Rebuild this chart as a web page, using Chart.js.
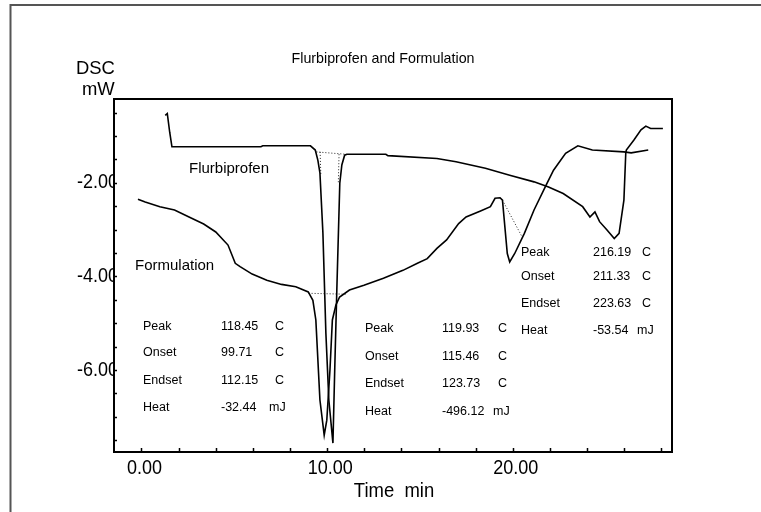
<!DOCTYPE html>
<html lang="en">
<head>
<meta charset="UTF-8" />
<title>Flurbiprofen and Formulation</title>
<script src="https://cdn.jsdelivr.net/npm/chart.js"></script>
<style>
  html, body { margin: 0; padding: 0; background: #fff; }
  #wrap { position: relative; width: 761px; height: 512px; }
</style>
</head>
<body>
<div id="wrap"><canvas id="dsc"></canvas></div>
<script>
// DSC traces: time (min) vs heat flow (mW)
const flurbiTime = [1.28, 1.39, 1.52, 1.64, 1.78, 6.43, 6.53, 9.10, 9.36, 9.50, 9.61, 9.77, 9.93, 10.09, 10.31,
  10.41, 10.52, 10.68, 10.79, 10.94, 11.06, 13.16, 13.27, 15.91, 16.94, 18.52, 19.83, 21.14, 21.92, 22.71,
  23.76, 24.15, 24.42, 24.67, 25.07, 25.46, 25.72, 25.98, 26.08, 26.11, 26.51, 26.90, 27.16, 27.42, 28.08];
const flurbiMw = [-0.56, -0.52, -0.92, -1.23, -1.23, -1.23, -1.21, -1.21, -1.30, -1.52, -1.79, -3.07, -5.21, -6.64, -7.56,
  -5.94, -4.29, -2.01, -1.62, -1.41, -1.39, -1.39, -1.42, -1.48, -1.55, -1.69, -1.84, -1.98, -2.09, -2.23,
  -2.51, -2.73, -2.62, -2.83, -3.01, -3.19, -3.08, -2.37, -1.37, -1.30, -1.09, -0.87, -0.79, -0.84, -0.84];

const formTime = [-0.19, 0.20, 0.99, 1.78, 2.56, 3.35, 4.00, 4.66, 5.05, 5.31, 5.96, 6.75, 7.54, 8.31, 8.98,
  9.23, 9.39, 9.61, 9.84, 9.98, 10.15, 10.28, 10.47, 10.67, 11.20, 11.98, 13.03, 14.08, 14.86, 15.39,
  15.91, 16.43, 17.08, 17.48, 18.26, 18.79, 19.04, 19.31, 19.44, 19.70, 19.83, 20.10, 20.62, 21.14, 21.79,
  22.19, 22.84, 23.50, 24.28, 25.98, 26.37, 27.29];
const formMw = [-2.35, -2.41, -2.51, -2.58, -2.73, -2.88, -3.05, -3.33, -3.72, -3.79, -3.95, -4.08, -4.17, -4.22, -4.33,
  -4.51, -4.93, -6.64, -7.39, -7.07, -6.00, -4.93, -4.61, -4.44, -4.29, -4.19, -4.04, -3.87, -3.72, -3.62,
  -3.40, -3.22, -2.87, -2.73, -2.60, -2.51, -2.33, -2.32, -2.37, -3.51, -3.69, -3.51, -3.08, -2.58, -2.05,
  -1.73, -1.37, -1.21, -1.30, -1.34, -1.36, -1.30];

// peak baselines and tangents (dotted), one [t0, t1] / [mW0, mW1] pair per segment
const dottedTime = [[9.42, 10.99], [9.00, 11.06], [19.44, 20.49], [9.62, 9.66], [10.64, 10.60]];
const dottedMw = [[-1.34, -1.39], [-4.36, -4.38], [-2.37, -3.15], [-1.34, -1.85], [-1.39, -2.00]];

// axis ticks
const xLabelTicks = [0, 10, 20];
const xMinorTicks = [0, 2, 4, 6, 8, 10, 12, 14, 16, 18, 20, 22, 24, 26, 28];
const yLabelTicks = [-2, -4, -6];
const yMinorTicks = [-7.5, -7, -6.5, -6, -5.5, -5, -4.5, -4, -3.5, -3, -2.5, -2, -1.5, -1, -0.5];

// peak analysis results
const resultNames = ['Peak', 'Onset', 'Endset', 'Heat'];
const resultUnits = ['C', 'C', 'C', 'mJ'];
const formPeak1 = ['118.45', '99.71', '112.15', '-32.44'];
const flurbiPeak = ['119.93', '115.46', '123.73', '-496.12'];
const formPeak2 = ['216.19', '211.33', '223.63', '-53.54'];

const SANS = "'Liberation Sans', Arial, sans-serif";

const pts = (xs, ys) => xs.map((x, i) => ({ x: x, y: ys[i] }));

const datasets = [
  { data: pts(flurbiTime, flurbiMw), borderColor: '#000', borderWidth: 1.6 },
  { data: pts(formTime, formMw), borderColor: '#000', borderWidth: 1.6 }
];
dottedTime.forEach((t, i) => {
  datasets.push({ data: pts(t, dottedMw[i]), borderColor: '#222', borderWidth: 1, borderDash: [1, 2] });
});

// narrow lettering: regular face squeezed sideways
function narrowText(ctx, text, x, y, align, sx) {
  ctx.save();
  ctx.translate(x, y);
  ctx.scale(sx, 1);
  ctx.textAlign = align;
  ctx.fillText(text, 0, 0);
  ctx.restore();
}

function drawResults(ctx, values, xName, xVal, xUnit, xUnitHeat, rows) {
  ctx.font = '12.5px ' + SANS;
  ctx.textBaseline = 'middle';
  ctx.textAlign = 'left';
  rows.forEach((y, i) => {
    ctx.fillText(resultNames[i], xName, y);
    ctx.fillText(values[i], xVal, y);
    ctx.fillText(resultUnits[i], resultUnits[i] === 'mJ' ? xUnitHeat : xUnit, y);
  });
}

const dscDecor = {
  id: 'dscDecor',
  beforeDatasetsDraw(chart) {
    const ca = chart.chartArea, ctx = chart.ctx;
    const xs = chart.scales.x, ys = chart.scales.y;
    ctx.save();
    ctx.fillStyle = '#000';
    ctx.font = '20px ' + SANS;
    ctx.textBaseline = 'middle';
    // y labels run under the axis and get cut off there
    ctx.save();
    ctx.beginPath();
    ctx.rect(0, 0, ca.left, chart.height);
    ctx.clip();
    yLabelTicks.forEach(v => {
      narrowText(ctx, v.toFixed(2), ca.left + 4, ys.getPixelForValue(v), 'right', 0.9);
    });
    ctx.restore();
    ctx.textBaseline = 'top';
    xLabelTicks.forEach(v => {
      narrowText(ctx, v.toFixed(2), xs.getPixelForValue(v) + 3, ca.bottom + 6, 'center', 0.9);
    });
    ctx.restore();
  },
  afterDraw(chart) {
    const ca = chart.chartArea, ctx = chart.ctx;
    const xs = chart.scales.x, ys = chart.scales.y;
    ctx.save();

    // outer frame
    ctx.strokeStyle = '#555';
    ctx.lineWidth = 2;
    ctx.beginPath();
    ctx.moveTo(10.5, 520);
    ctx.lineTo(10.5, 5);
    ctx.lineTo(770, 5);
    ctx.stroke();

    // plot box
    ctx.strokeStyle = '#000';
    ctx.lineWidth = 2;
    ctx.strokeRect(ca.left, ca.top, ca.right - ca.left, ca.bottom - ca.top);

    // inward tick marks
    ctx.lineWidth = 1.5;
    ctx.beginPath();
    xMinorTicks.forEach(v => {
      const px = Math.round(xs.getPixelForValue(v)) + 0.5;
      ctx.moveTo(px, ca.bottom);
      ctx.lineTo(px, ca.bottom - 4);
    });
    yMinorTicks.forEach(v => {
      const py = Math.round(ys.getPixelForValue(v)) + 0.5;
      ctx.moveTo(ca.left, py);
      ctx.lineTo(ca.left + 3, py);
    });
    ctx.stroke();

    ctx.fillStyle = '#000';
    ctx.textBaseline = 'alphabetic';
    ctx.font = '15px ' + SANS;
    narrowText(ctx, 'Flurbiprofen and Formulation', 383, 63, 'center', 0.95);

    ctx.font = '19px ' + SANS;
    narrowText(ctx, 'DSC', 76, 74, 'left', 0.97);
    narrowText(ctx, 'mW', 82, 95, 'left', 0.97);

    ctx.font = '21px ' + SANS;
    narrowText(ctx, 'Time  min', 394, 497, 'center', 0.88);

    ctx.textAlign = 'left';
    ctx.font = '15px ' + SANS;
    ctx.textBaseline = 'middle';
    ctx.fillText('Flurbiprofen', 189, 169);
    ctx.fillText('Formulation', 135, 266);

    drawResults(ctx, formPeak1, 143, 221, 275, 269, [327, 353, 381, 408]);
    drawResults(ctx, flurbiPeak, 365, 442, 498, 493, [329, 357, 384, 412]);
    drawResults(ctx, formPeak2, 521, 593, 642, 637, [253, 277, 304, 331]);
    ctx.restore();
  }
};

new Chart(document.getElementById('dsc'), {
  type: 'line',
  data: { datasets: datasets },
  options: {
    responsive: true,
    maintainAspectRatio: false,
    animation: false,
    parsing: false,
    elements: { point: { radius: 0 }, line: { tension: 0, fill: false } },
    layout: { padding: { top: 99, right: 89, left: 0, bottom: 0 } },
    plugins: { legend: { display: false }, tooltip: { enabled: false }, title: { display: false } },
    scales: {
      x: {
        type: 'linear', min: -1.48, max: 28.57,
        grid: { display: false, drawTicks: false },
        border: { display: false },
        ticks: { display: false },
        afterFit: s => { s.height = 60; }
      },
      y: {
        type: 'linear', min: -7.75, max: -0.21,
        grid: { display: false, drawTicks: false },
        border: { display: false },
        ticks: { display: false },
        afterFit: s => { s.width = 114; }
      }
    }
  },
  plugins: [dscDecor]
});
</script>
</body>
</html>
